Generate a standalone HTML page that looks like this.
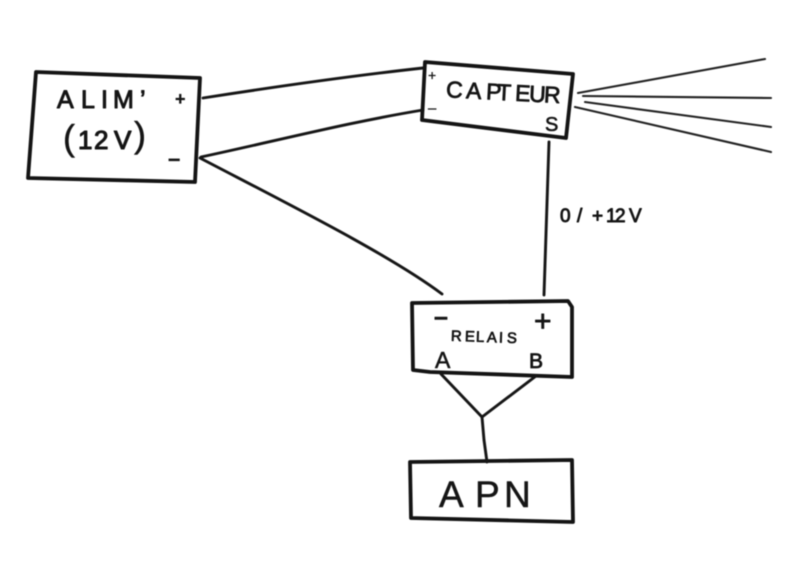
<!DOCTYPE html>
<html lang="fr">
<head>
<meta charset="utf-8">
<title>Schéma de câblage</title>
<style>
html,body{margin:0;padding:0;background:#fff;width:800px;height:574px;overflow:hidden}
svg{display:block;filter:blur(.4px)}
text{font-family:"Liberation Sans",sans-serif;fill:#151515;stroke:#151515;stroke-linejoin:round}
.b{fill:none;stroke:#141414;stroke-width:3.8;stroke-linejoin:round;stroke-linecap:round}
.w{fill:none;stroke:#161616;stroke-width:2.9;stroke-linecap:round;stroke-linejoin:round}
.t{fill:none;stroke:#222;stroke-width:2.1;stroke-linecap:round}
</style>
</head>
<body>
<svg width="800" height="574" viewBox="0 0 800 574" xmlns="http://www.w3.org/2000/svg">
<rect width="800" height="574" fill="#fff"/>

<!-- Boxes -->
<path class="b" d="M36 72 L200 78 L195 182 L28 178 Z"/>
<path class="b" d="M425 62 L573 74 L566 138 L422 120 Z"/>
<path class="b" d="M412 303 L568 301 L572 307 L572 377 L430 372 L413 370 Z"/>
<path class="b" d="M410 462 L572 460 L573 522 L411 518 Z"/>

<!-- Wires -->
<path class="w" d="M203 98 C280 86 350 76 423 68"/>
<path class="w" d="M201 157 C280 140 350 122 423 110"/>
<path class="w" d="M200 158 C290 205 390 255 442 294"/>
<path class="w" d="M549 142 L544 295"/>
<path class="w" d="M441 374 L482 417 L536 376"/>
<path class="w" d="M482 417 L484 440 L487 462"/>

<!-- Sensor rays -->
<path class="t" d="M578 93 L765 59"/>
<path class="t" d="M583 96 L771 98"/>
<path class="t" d="M585 102 L771 127"/>
<path class="t" d="M575 107 L771 152"/>

<!-- ALIM box text -->
<text x="57 81 101 113 140" y="108" font-size="25" stroke-width="1">ALIM’</text>
<text x="63" y="150" font-size="36" stroke-width=".5">(</text>
<text x="78 94 114" y="149" font-size="26" stroke-width="1.1">12V</text>
<text x="134" y="147" font-size="36" stroke-width=".5">)</text>
<text x="175" y="105" font-size="18" font-weight="700" stroke-width=".3">+</text>
<text x="168" y="166" font-size="22" font-weight="700" stroke-width=".3">–</text>

<!-- CAPTEUR box text -->
<g transform="rotate(3 500 95)">
<text x="446 466 486 497 515 529 544" y="100" font-size="23" stroke-width=".8" textLength="114">CAPTEUR</text>
</g>
<text x="428" y="80" font-size="14" stroke-width=".3">+</text>
<text x="428" y="113" font-size="15" stroke-width=".3">–</text>
<text x="545" y="131" font-size="20" stroke-width=".6">S</text>

<!-- Signal label -->
<text x="560 577 592 606 615 629" y="222" font-size="19" stroke-width=".9">0/+12V</text>

<!-- RELAIS box text -->
<g transform="rotate(2 485 336)">
<text x="451 465 476 487 499 507" y="342" font-size="15" stroke-width=".7">RELAIS</text>
</g>
<text x="434" y="325" font-size="25" font-weight="700" stroke-width=".5">–</text>
<text x="534" y="331" font-size="30" stroke-width=".8">+</text>
<text x="435" y="368" font-size="23" stroke-width=".6">A</text>
<text x="529" y="368" font-size="21" stroke-width=".8">B</text>

<!-- APN box text -->
<text x="439 475 504" y="507" font-size="37" stroke-width=".5">APN</text>
</svg>
</body>
</html>
